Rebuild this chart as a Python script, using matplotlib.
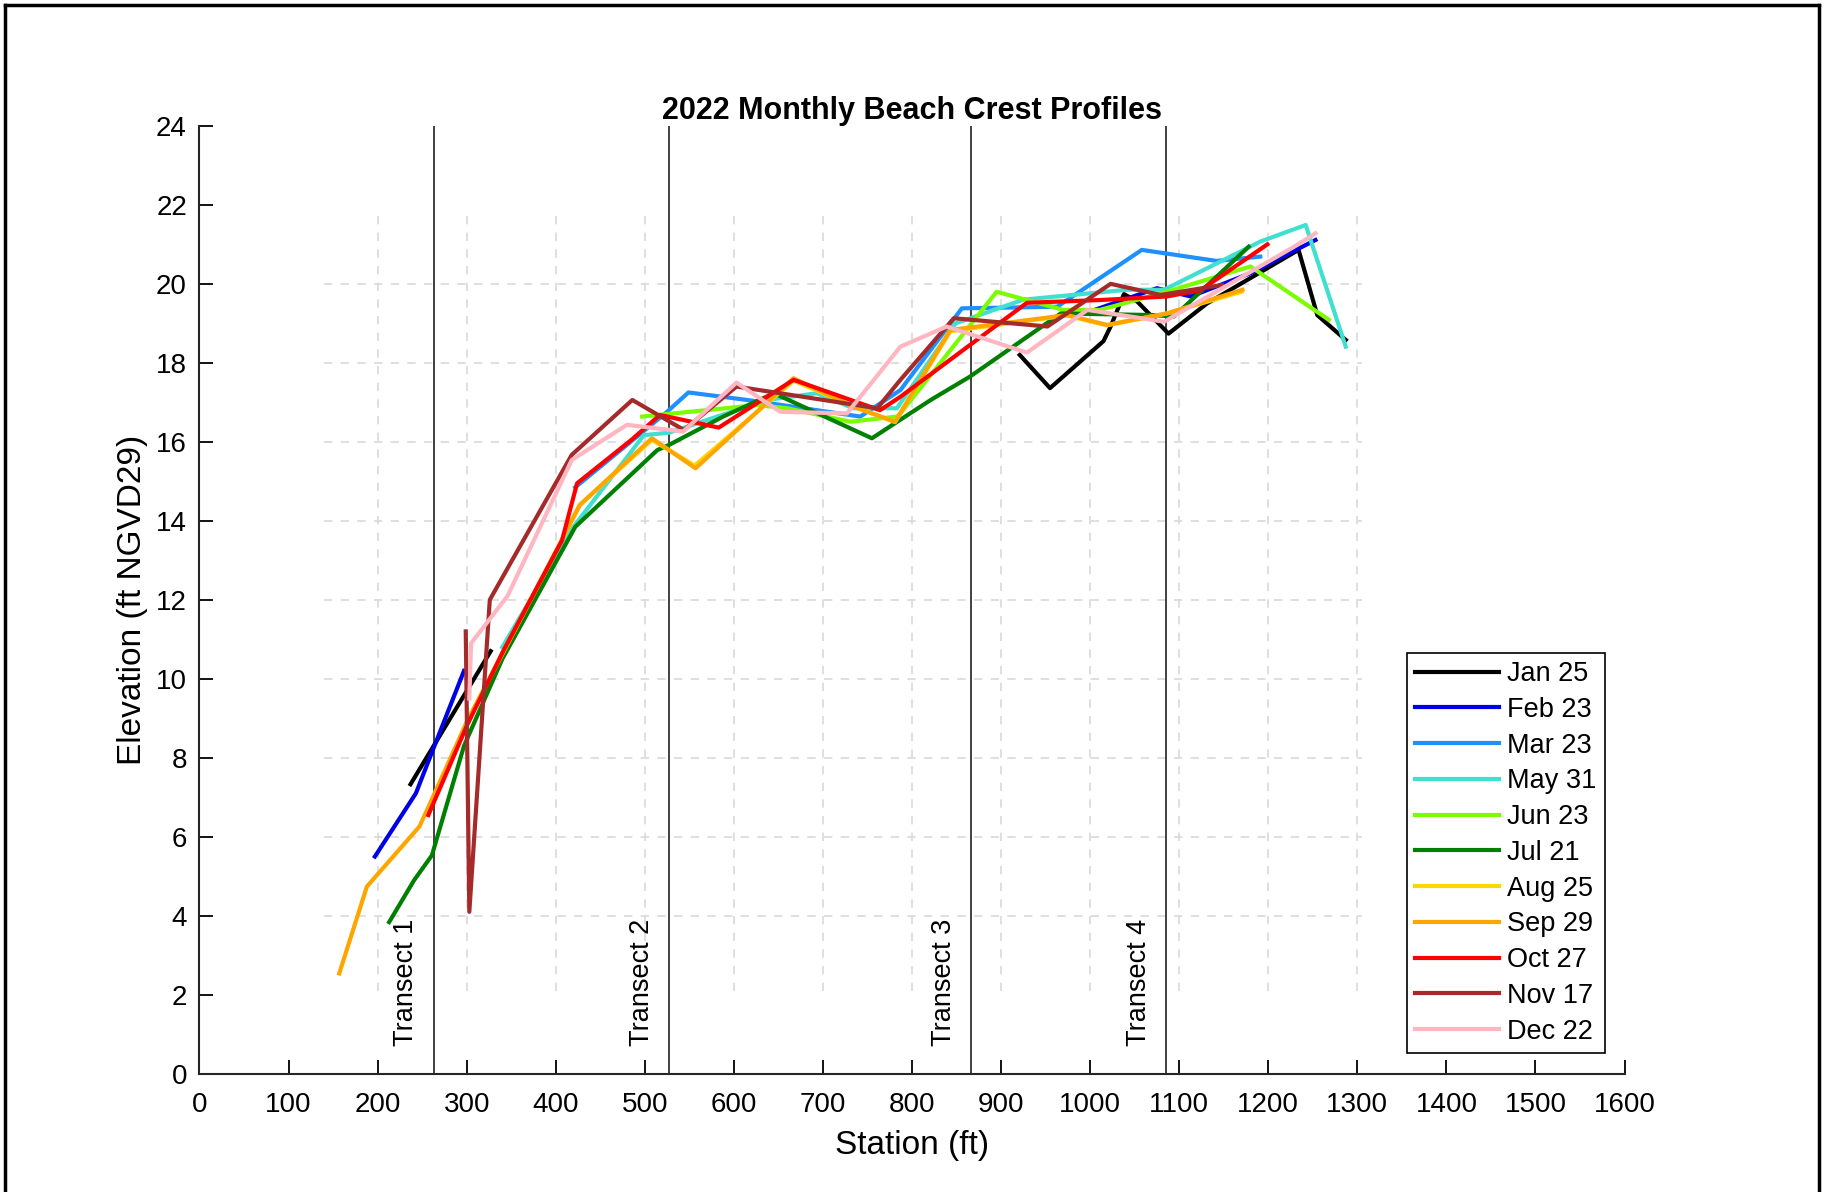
import matplotlib
matplotlib.use("Agg")
import matplotlib.pyplot as plt
import numpy as np
from matplotlib.lines import Line2D

plt.rcParams['font.family'] = ['Liberation Sans', 'DejaVu Sans']

nan = np.nan

# station (ft) / elevation (ft NGVD29) for each survey
jan_x = [237, 327, nan, 921, 955, 1015, 1023, 1038, 1053, 1088, 1131, 1234, 1255, 1287]
jan_y = [7.33, 10.7, nan, 18.2, 17.36, 18.55, 18.92, 19.74, 19.55, 18.74, 19.5, 20.86, 19.21, 18.58]

feb_x = [197, 243, 256, 297, nan, 1005, 1075, 1113, 1180, 1253]
feb_y = [5.5, 7.1, 7.85, 10.2, nan, 19.34, 19.89, 19.68, 20.27, 21.11]

mar_x = [422, 523, 549, 615, 742, 787, 856, 963, 1058, 1142, 1191]
mar_y = [14.85, 16.72, 17.25, 17.06, 16.64, 17.31, 19.38, 19.42, 20.86, 20.58, 20.69]

may_x = [340, 420, 499, 527, 637, 693, 734, 783, 849, 925, 1041, 1083, 1191, 1242, 1287]
may_y = [10.8, 13.85, 16.17, 16.23, 17.06, 17.23, 16.85, 16.85, 19.0, 19.6, 19.85, 19.85, 21.07, 21.49, 18.41]

jun_x = [497, 626, 660, 731, 783, 787, 895, 970, 1011, 1086, 1180, 1268]
jun_y = [16.64, 16.93, 16.85, 16.51, 16.64, 16.72, 19.8, 19.34, 19.34, 19.8, 20.44, 19.09]

jul_x = [213, 241, 261, 297, 340, 422, 514, 527, 588, 645, 755, 821, 865, 967, 1071, 1094, 1178]
jul_y = [3.84, 4.9, 5.53, 8.3, 10.5, 13.85, 15.79, 15.92, 16.64, 17.23, 16.09, 17.06, 17.65, 19.25, 19.21, 19.17, 20.94]

aug_x = [300, 395, 427, 508, 556, 667, 734, 781, 843, 974, 1019, 1086, 1170]
aug_y = [8.9, 13.0, 14.4, 16.05, 15.4, 17.55, 16.9, 16.5, 18.8, 19.2, 18.95, 19.25, 19.8]

sep_x = [157, 188, 247, 258, 300, 395, 427, 508, 557, 667, 734, 781, 843, 974, 1019, 1086, 1171]
sep_y = [2.54, 4.74, 6.26, 6.8, 8.9, 13.0, 14.4, 16.09, 15.33, 17.61, 16.89, 16.51, 18.83, 19.21, 18.96, 19.25, 19.85]

oct_x = [257, 300, 341, 407, 424, 485, 517, 583, 667, 764, 787, 862, 929, 1011, 1086, 1124, 1199]
oct_y = [6.55, 8.8, 10.7, 13.5, 14.95, 16.05, 16.68, 16.36, 17.57, 16.8, 17.14, 18.4, 19.52, 19.59, 19.68, 19.84, 21.0]

nov_x = [299, 303, 326, 346, 418, 486, 544, 603, 761, 787, 847, 952, 1023, 1079, 1148]
nov_y = [11.2, 4.1, 12.0, 12.8, 15.67, 17.06, 16.3, 17.4, 16.85, 17.57, 19.13, 18.92, 20.0, 19.72, 19.97]

dec_x = [303, 305, 346, 418, 480, 529, 543, 603, 652, 727, 787, 839, 929, 997, 1083, 1229, 1253]
dec_y = [9.5, 10.9, 12.1, 15.54, 16.43, 16.3, 16.26, 17.5, 16.76, 16.72, 18.41, 18.92, 18.26, 19.34, 19.04, 20.94, 21.28]

labels = ['Jan 25', 'Feb 23', 'Mar 23', 'May 31', 'Jun 23', 'Jul 21',
          'Aug 25', 'Sep 29', 'Oct 27', 'Nov 17', 'Dec 22']
colors = ['black', '#0000e6', '#1e90ff', '#40e0d0', '#7cfc00', '#008000',
          '#ffd700', '#ffa500', '#ff0000', '#a52a2a', '#ffb6c1']
xs = [jan_x, feb_x, mar_x, may_x, jun_x, jul_x, aug_x, sep_x, oct_x, nov_x, dec_x]
ys = [jan_y, feb_y, mar_y, may_y, jun_y, jul_y, aug_y, sep_y, oct_y, nov_y, dec_y]

transect_x = [263, 527, 866, 1085]
transect_names = ['Transect 1', 'Transect 2', 'Transect 3', 'Transect 4']

fig = plt.figure(figsize=(18.28, 11.92), dpi=100)
ax = fig.add_axes([0.1091, 0.0992, 0.7796, 0.7952])

# faint dashed grid, only over the surveyed area
grid_kw = dict(colors='#d9d9d9', linestyles=(0, (5, 5)), linewidth=1.2, zorder=0)
ax.hlines(np.arange(4, 21, 2), 140, 1305, **grid_kw)
ax.vlines(np.arange(200, 1301, 100), 2.1, 21.8, **grid_kw)

for x, y, c, lab in zip(xs, ys, colors, labels):
    ax.plot(x, y, color=c, lw=3, label=lab, zorder=3)

for tx, name in zip(transect_x, transect_names):
    ax.axvline(tx, color='#333333', lw=1.3, zorder=2)
    ax.text(tx - 16, 0.7, name, rotation=90, ha='right', va='bottom', fontsize=19.5)

ax.set_xlim(0, 1600)
ax.set_ylim(0, 24)
ax.set_xticks(np.arange(0, 1601, 100))
ax.set_yticks(np.arange(0, 25, 2))
ax.tick_params(direction='in', length=10, width=1.3, labelsize=20)
ax.tick_params(axis='x', pad=13)
ax.tick_params(axis='y', pad=9)
for s in ['top', 'right']:
    ax.spines[s].set_visible(False)
for s in ['left', 'bottom']:
    ax.spines[s].set_linewidth(1.5)
    ax.spines[s].set_color('#262626')

ax.set_xlabel('Station (ft)', fontsize=24, labelpad=9)
ax.set_ylabel('Elevation (ft NGVD29)', fontsize=24, labelpad=6)
ax.set_title('2022 Monthly Beach Crest Profiles', fontsize=22, fontweight='bold', pad=2)

leg = ax.legend(loc='upper left', bbox_to_anchor=(0.8475, 0.444), fontsize=19.5,
                handlelength=3.1, handletextpad=0.3, labelspacing=0.36,
                borderaxespad=0, borderpad=0.3, fancybox=False, framealpha=1)
leg.get_frame().set_edgecolor('black')
leg.get_frame().set_linewidth(1.2)

# page frame around the figure
for xy in [([0.003, 0.003], [-0.01, 0.996]), ([0.995, 0.995], [-0.01, 0.996]),
           ([0.003, 0.995], [0.996, 0.996])]:
    fig.add_artist(Line2D(xy[0], xy[1], color='black', lw=2.5))

fig.savefig('out.png', dpi=100)
